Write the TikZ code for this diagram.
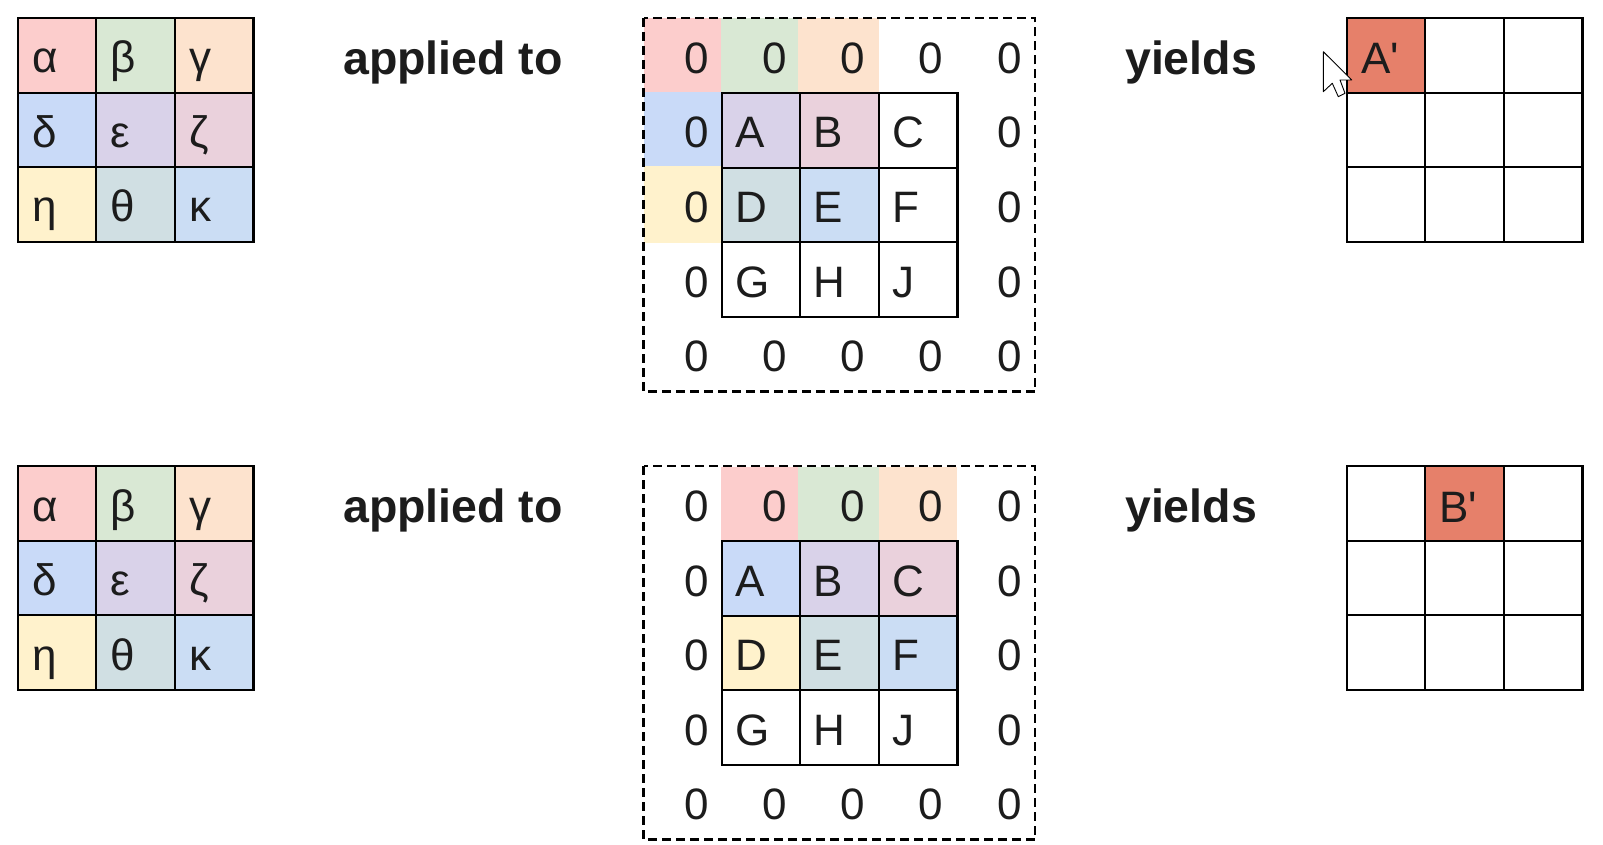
\documentclass[tikz,border=0pt]{standalone}
\usepackage{fontspec}
\setmainfont{Liberation Sans}
\newfontfamily\plainfont{Liberation Sans}
\definecolor{cA}{HTML}{FCCDCC}
\definecolor{cB}{HTML}{D9E8D4}
\definecolor{cC}{HTML}{FDE3CE}
\definecolor{cD}{HTML}{C9DAF8}
\definecolor{cE}{HTML}{D9D2E9}
\definecolor{cF}{HTML}{EAD1DC}
\definecolor{cG}{HTML}{FFF2CC}
\definecolor{cH}{HTML}{D0DFE3}
\definecolor{cI}{HTML}{CBDDF4}
\definecolor{cR}{HTML}{E6806A}
\definecolor{ink}{HTML}{1C1C1C}
\tikzset{
  x=1pt,y=-1pt,
  gridline/.style={draw=black,line width=2.9pt,line cap=rect},
  dashbox/.style={draw=black,line width=2.9pt,dash pattern=on 9pt off 5pt},
  celltext/.style={anchor=base west,inner sep=0pt,font=\fontsize{44}{44}\selectfont,text=ink},
  zerotext/.style={anchor=base,inner sep=0pt,font=\fontsize{44}{44}\selectfont,text=ink},
  boldtext/.style={anchor=base west,inner sep=0pt,font=\fontsize{46.5}{46.5}\selectfont\bfseries,text=ink},
}
\newcommand{\gridlines}[2]{%
  \draw[gridline] (#1,#2) rectangle ++(235.5,224);
  \draw[gridline] (#1+78,#2) -- ++(0,224) (#1+157,#2) -- ++(0,224)
                  (#1,#2+75) -- ++(235.5,0) (#1,#2+149) -- ++(235.5,0);
}
\newcommand{\tile}[5]{\fill[#5] (#1,#2) rectangle (#3,#4);}
\newcommand{\operator}[2]{%
  \tile{#1}{#2}{#1+78}{#2+75}{cA}\tile{#1+78}{#2}{#1+157}{#2+75}{cB}\tile{#1+157}{#2}{#1+235}{#2+75}{cC}
  \tile{#1}{#2+75}{#1+78}{#2+149}{cD}\tile{#1+78}{#2+75}{#1+157}{#2+149}{cE}\tile{#1+157}{#2+75}{#1+235}{#2+149}{cF}
  \tile{#1}{#2+149}{#1+78}{#2+224}{cG}\tile{#1+78}{#2+149}{#1+157}{#2+224}{cH}\tile{#1+157}{#2+149}{#1+235}{#2+224}{cI}
  \gridlines{#1}{#2}
  \foreach \t/\c/\r in {α/0/0,β/1/0,γ/2/0,δ/0/1,ε/1/1,ζ/2/1,η/0/2,θ/1/2,κ/2/2}
    \node[celltext] at (#1+14+\c*78.5,#2+55+\r*74.5) {\t};
}
\newcommand{\padded}[1]{%
  \draw[dashbox] (643.5,#1) rectangle (1035,#1+373.5);
  \foreach \r in {0,4} \foreach \c in {0,1,2,3,4}
    \node[zerotext] at (696.5+\c*78.2,#1+55.5+\r*74.5) {0};
  \foreach \r in {1,2,3} \foreach \c in {0,4}
    \node[zerotext] at (696.5+\c*78.2,#1+55.5+\r*74.5) {0};
  \gridlines{722}{#1+75}
  \foreach \t/\c/\r in {A/0/0,B/1/0,C/2/0,D/0/1,E/1/1,F/2/1,G/0/2,H/1/2,J/2/2}
    \node[celltext] at (735+\c*78.5,#1+130+\r*74.5) {\t};
}
\begin{document}
\begin{tikzpicture}
\useasboundingbox (0,0) rectangle (1603,845);
\fill[white] (0,0) rectangle (1603,845);

% top row
\operator{18}{18}
\node[boldtext] (lab1) at (343,74.5) {applied to};
\tile{644}{18}{721}{92}{cA}\tile{721}{18}{798}{92}{cB}\tile{798}{18}{879}{92}{cC}
\tile{644}{92}{721}{166}{cD}\tile{644}{166}{721}{243}{cG}
\tile{722}{93}{800}{167}{cE}\tile{800}{93}{879}{167}{cF}
\tile{722}{167}{800}{243}{cH}\tile{800}{167}{879}{243}{cI}
\padded{18}
\node[boldtext] (lab2) at (1125,74.5) {yields};
\tile{1347}{18}{1425}{93}{cR}
\gridlines{1347}{18}
\node[celltext] (ap) at (1361,74) {A{\plainfont '}};
\draw[black,line width=0.9pt,fill=white,line join=round]
  (1323.3,51.7) -- (1323.3,91.7) -- (1332.3,83.3) -- (1338.3,96.7) -- (1345,93.3) -- (1340,80) -- (1351.7,80) -- cycle;

% bottom row
\operator{18}{466}
\node[boldtext] (lab3) at (343,522.5) {applied to};
\tile{721}{467}{798}{540}{cA}\tile{798}{467}{879}{540}{cB}\tile{879}{467}{957}{540}{cC}
\tile{722}{541}{800}{615}{cD}\tile{800}{541}{879}{615}{cE}\tile{879}{541}{957}{615}{cF}
\tile{722}{615}{800}{690}{cG}\tile{800}{615}{879}{690}{cH}\tile{879}{615}{957}{690}{cI}
\padded{466}
\node[boldtext] (lab4) at (1125,522.5) {yields};
\tile{1426}{466}{1504}{541}{cR}
\gridlines{1347}{466}
\node[celltext] (bp) at (1439,522) {B{\plainfont '}};
\end{tikzpicture}
\end{document}
